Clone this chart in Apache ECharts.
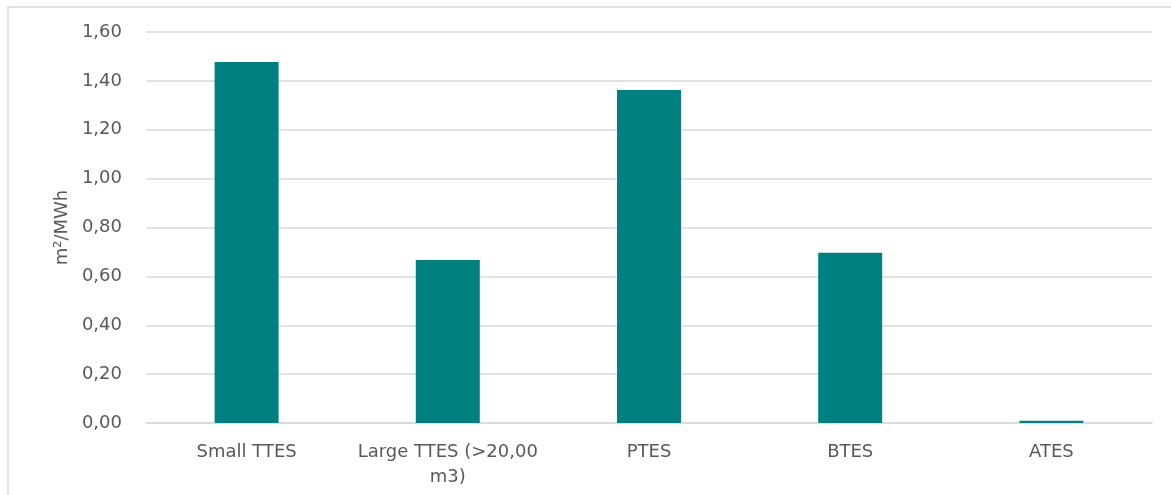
<!DOCTYPE html>
<html>
<head>
<meta charset="utf-8">
<script src="https://cdn.jsdelivr.net/npm/echarts@6/dist/echarts.min.js"></script>
<style>
  html, body { margin: 0; padding: 0; background: #fff; }
  #main { width: 1171px; height: 495px; }
</style>
</head>
<body>
<div id="main"></div>
<script>
// data
var categories = ['Small TTES', 'Large TTES (>20,00\nm3)', 'PTES', 'BTES', 'ATES']
var values = [1.477, 0.667, 1.363, 0.697, 0.009]
var yTicks = { min: 0, max: 1.6, interval: 0.2 }

var chart = echarts.init(document.getElementById('main'))

var font = 'DejaVu Sans'

var option = {
  animation: false,
  textStyle: { fontFamily: font, color: '#595959', fontSize: 16 },
  graphic: [{
    type: 'rect',
    shape: { x: 8, y: 7, width: 1200, height: 520 },
    style: { fill: 'none', stroke: '#d9d9d9', lineWidth: 1.5 },
    silent: true
  }],
  grid: { left: 146, right: 19, top: 32, bottom: 72 },
  xAxis: {
    type: 'category',
    data: categories,
    axisLine: { show: true, lineStyle: { color: '#d9d9d9', width: 1.5 } },
    axisTick: { show: false },
    axisLabel: { interval: 0, color: '#595959', fontSize: 18, margin: 17, lineHeight: 25, fontFamily: font }
  },
  yAxis: {
    type: 'value',
    min: yTicks.min,
    max: yTicks.max,
    interval: yTicks.interval,
    name: 'm²/MWh',
    nameLocation: 'middle',
    nameGap: 74,
    nameTextStyle: { fontSize: 18, color: '#595959', fontFamily: font },
    axisLine: { show: false },
    axisTick: { show: false },
    axisLabel: {
      color: '#595959',
      fontSize: 18,
      margin: 24,
      fontFamily: font,
      formatter: function (v) { return v.toFixed(2).replace('.', ',') }
    },
    splitLine: { lineStyle: { color: '#d9d9d9', width: 1.5 } }
  },
  series: [{
    type: 'bar',
    data: values,
    barWidth: 64,
    itemStyle: { color: '#008080' }
  }]
}

chart.setOption(option)
</script>
</body>
</html>
